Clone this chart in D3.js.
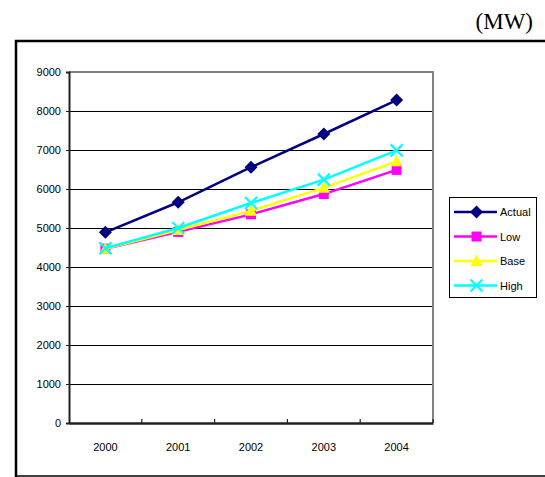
<!DOCTYPE html>
<html>
<head>
<meta charset="utf-8">
<script src="https://cdn.jsdelivr.net/npm/d3@7"></script>
<style>
  body { margin: 0; background: #fff; }
  svg { display: block; }
</style>
</head>
<body>
<div id="chart"></div>
<script>
const years = ['2000', '2001', '2002', '2003', '2004'];
const yTicks = [0, 1000, 2000, 3000, 4000, 5000, 6000, 7000, 8000, 9000];
const actual = [4890, 5660, 6560, 7410, 8280];
const low = [4470, 4900, 5350, 5870, 6490];
const base = [4470, 4950, 5440, 6030, 6710];
const high = [4480, 5000, 5640, 6240, 6990];

const series = [
  { name: 'Actual', values: actual, color: '#000080', marker: 'diamond' },
  { name: 'Low', values: low, color: '#ff00ff', marker: 'square' },
  { name: 'Base', values: base, color: '#ffff00', marker: 'triangle' },
  { name: 'High', values: high, color: '#00ffff', marker: 'x' }
];

const width = 545, height = 477;
const plot = { left: 69, right: 433, top: 72, bottom: 423 };

const svg = d3.select('#chart').append('svg')
  .attr('width', width)
  .attr('height', height);

// unit label
svg.append('text')
  .attr('x', 533).attr('y', 29)
  .attr('text-anchor', 'end')
  .attr('font-family', '"Liberation Serif", "Times New Roman", serif')
  .attr('font-size', 23)
  .text('(MW)');

// outer frame (runs past the right edge)
svg.append('path')
  .attr('d', `M16,477 L16,41 L560,41`)
  .attr('fill', 'none')
  .attr('stroke', '#000')
  .attr('stroke-width', 2.5);
svg.append('line')
  .attr('x1', 15).attr('x2', 560).attr('y1', 476).attr('y2', 476)
  .attr('stroke', '#000').attr('stroke-width', 1.5);

const x = d3.scaleBand().domain(years).range([plot.left, plot.right]);
const y = d3.scaleLinear().domain([0, 9000]).range([plot.bottom, plot.top]);

// gridlines
svg.append('g')
  .selectAll('line')
  .data(yTicks.filter(d => d > 0 && d < 9000))
  .join('line')
  .attr('x1', plot.left).attr('x2', plot.right)
  .attr('y1', d => Math.round(y(d)) + 0.5).attr('y2', d => Math.round(y(d)) + 0.5)
  .attr('stroke', '#000').attr('stroke-width', 1);

// plot border top/right in gray
svg.append('path')
  .attr('d', `M${plot.left},${plot.top} L${plot.right},${plot.top} L${plot.right},${plot.bottom}`)
  .attr('fill', 'none')
  .attr('stroke', '#808080')
  .attr('stroke-width', 2);

const font = '"Liberation Sans", Arial, sans-serif';

// y axis
const yAxis = svg.append('g')
  .attr('transform', `translate(${plot.left},0)`)
  .call(d3.axisLeft(y).tickValues(yTicks).tickSize(3).tickPadding(5).tickFormat(d3.format('d')));
yAxis.select('.domain').attr('stroke', '#222').attr('stroke-width', 2);
yAxis.selectAll('.tick line').attr('stroke', '#222');
yAxis.selectAll('text').attr('font-family', font).attr('font-size', 11).attr('fill', '#000');

// x axis: ticks at band boundaries
const xAxis = svg.append('g')
  .attr('transform', `translate(0,${plot.bottom})`)
  .call(d3.axisBottom(x).tickSize(0).tickPadding(20));
xAxis.select('.domain').attr('stroke', '#222').attr('stroke-width', 2.5);
xAxis.selectAll('text').attr('font-family', font).attr('font-size', 11).attr('fill', '#000');
svg.append('g')
  .selectAll('line')
  .data(years.slice(1).concat(['end']))
  .join('line')
  .attr('x1', d => d === 'end' ? plot.right : x(d))
  .attr('x2', d => d === 'end' ? plot.right : x(d))
  .attr('y1', plot.bottom - 4).attr('y2', plot.bottom)
  .attr('stroke', '#222').attr('stroke-width', 1.2);

const cx = d => x(d) + x.bandwidth() / 2;

const symbolPath = {
  diamond: 'M0,-6.5 L6.5,0 L0,6.5 L-6.5,0 Z',
  square: 'M-5,-5 L5,-5 L5,5 L-5,5 Z',
  triangle: 'M0,-6.5 L6,5 L-6,5 Z',
  x: 'M-6,-6 L6,6 M6,-6 L-6,6'
};

function drawMarker(g, type, color) {
  const p = g.append('path').attr('d', symbolPath[type]);
  if (type === 'x') p.attr('fill', 'none').attr('stroke', color).attr('stroke-width', 2.2);
  else p.attr('fill', color);
}

const line = d3.line()
  .x((d, i) => cx(years[i]))
  .y(d => y(d));

series.forEach(s => {
  svg.append('path')
    .datum(s.values)
    .attr('d', line)
    .attr('fill', 'none')
    .attr('stroke', s.color)
    .attr('stroke-width', 2.5);
  s.values.forEach((v, i) => {
    const g = svg.append('g').attr('transform', `translate(${cx(years[i])},${y(v)})`);
    drawMarker(g, s.marker, s.color);
  });
});

// legend
const legend = svg.append('g');
legend.append('rect')
  .attr('x', 449.5).attr('y', 197.5).attr('width', 87).attr('height', 100)
  .attr('fill', '#fff').attr('stroke', '#000').attr('stroke-width', 1);
series.forEach((s, i) => {
  const ly = 212 + i * 24.5;
  legend.append('line')
    .attr('x1', 454).attr('x2', 497).attr('y1', ly).attr('y2', ly)
    .attr('stroke', s.color).attr('stroke-width', 2.5);
  drawMarker(legend.append('g').attr('transform', `translate(476.5,${ly})`), s.marker, s.color);
  legend.append('text')
    .attr('x', 500).attr('y', ly + 4)
    .attr('font-family', font).attr('font-size', 11)
    .text(s.name);
});
</script>
</body>
</html>
